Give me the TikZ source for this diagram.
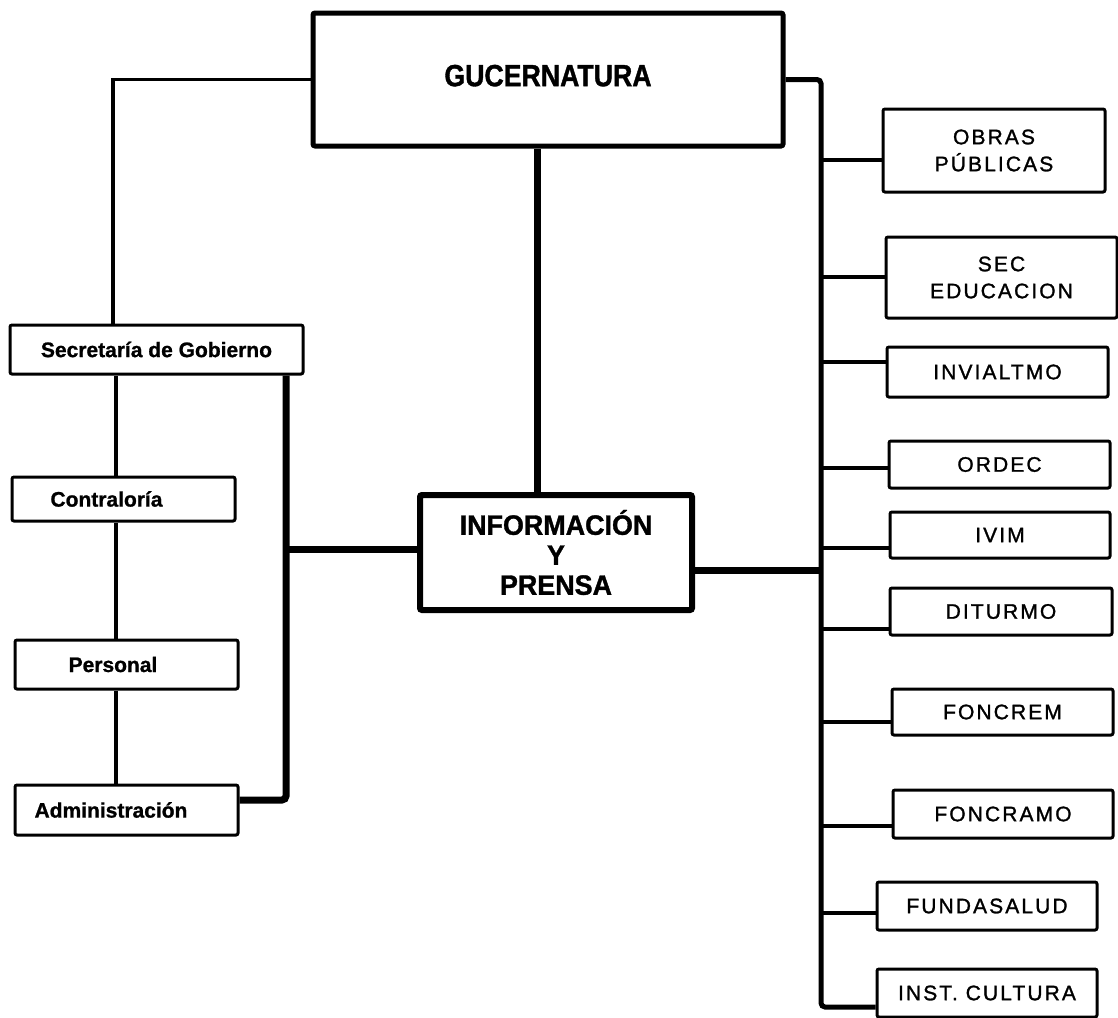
\documentclass[tikz,border=0pt]{standalone}
\usepackage{fontspec}
\setmainfont{Liberation Sans}
\newfontfamily\gobfont{Liberation Sans}[FakeStretch=0.87,FakeBold=1.2]
\newfontfamily\infofont{Liberation Sans}[FakeStretch=0.96,FakeBold=1.2]
\newfontfamily\rfont{Liberation Sans}[LetterSpace=10,FakeBold=1.3]
\newfontfamily\lfont{Liberation Sans}[FakeBold=1.0]
\begin{document}
\begin{tikzpicture}[x=1pt,y=-1pt,
  gobbox/.style={draw, line width=5pt, rounded corners=2pt, inner sep=0pt},
  rbox/.style={draw, line width=3pt, rounded corners=2pt, inner sep=0pt, align=center,
    font=\rfont\fontsize{21}{27}\selectfont},
  lbox/.style={draw, line width=3pt, rounded corners=2pt, inner sep=0pt,
    font=\lfont\bfseries\fontsize{21}{24}\selectfont},
  heavy/.style={line width=7pt},
  bus/.style={line width=5pt, rounded corners=4pt},
  conn/.style={line width=3.5pt},
  thinv/.style={line width=3.5pt}]

\fill[white] (0,0) rectangle (1118,1017);
\useasboundingbox (0,0) rectangle (1118,1017);

% central boxes
\node[gobbox, minimum width=470pt, minimum height=133pt,
  font=\gobfont\bfseries\fontsize{30.7}{34}\selectfont] (gob) at (548,79.5) {\raisebox{8pt}{GUCERNATURA}};
\node[gobbox, line width=6pt, minimum width=272pt, minimum height=115pt, align=center,
  font=\infofont\bfseries\fontsize{28}{30}\selectfont] (info) at (556,552.5) {INFORMACIÓN\\Y\\PRENSA};

% right boxes
\node[rbox, minimum width=222pt, minimum height=83pt] (obras) at (994,150.5) {OBRAS\\PÚBLICAS};
\node[rbox, minimum width=231pt, minimum height=81pt] (seced) at (1001.5,277.5) {SEC\\EDUCACION};
\node[rbox, minimum width=221pt, minimum height=50pt] (invial) at (997.5,372) {INVIALTMO};
\node[rbox, minimum width=221pt, minimum height=47pt] (ordec) at (999.5,464.5) {ORDEC};
\node[rbox, minimum width=220pt, minimum height=46pt] (ivim) at (1000,535) {IVIM};
\node[rbox, minimum width=222pt, minimum height=47pt] (ditur) at (1001,611.5) {DITURMO};
\node[rbox, minimum width=221pt, minimum height=46pt] (foncrem) at (1002.5,712) {FONCREM};
\node[rbox, minimum width=220pt, minimum height=48pt] (foncramo) at (1003,814) {FONCRAMO};
\node[rbox, minimum width=220pt, minimum height=48pt] (funda) at (987,906) {FUNDASALUD};
\node[rbox, minimum width=220pt, minimum height=48pt] (inst) at (987,993) {INST. CULTURA};

% left boxes
\node[lbox, minimum width=293pt, minimum height=49pt] (secgob) at (156.5,349.5) {Secretaría de Gobierno};
\node[lbox, minimum width=223pt, minimum height=44pt] (contra) at (123.5,499) {\hspace*{-34pt}Contraloría};
\node[lbox, minimum width=223pt, minimum height=49pt] (pers) at (126.5,664.5) {\hspace*{-27pt}Personal};
\node[lbox, minimum width=223pt, minimum height=50pt] (adm) at (126.5,810) {\hspace*{-31pt}Administración};

% right bus and branches
\coordinate (cbot) at (821,1007);
\draw[bus] (gob.east) -| (cbot) -- (cbot -| inst.west);
\foreach \n/\y in {obras/160, seced/277, invial/362, ordec/468, ivim/548, ditur/629, foncrem/722, foncramo/826, funda/913}{
  \coordinate (c\n) at (821,\y);
  \draw[conn] (c\n) -- (c\n -| \n.west);
}

% heavy links of the central box
\coordinate (gv) at (537,0);
\draw[heavy] (gob.south -| gv) -- (info.north -| gv);
\coordinate (ib) at (821,570);
\draw[heavy] (ib -| info.east) -- (ib);

% left side
\coordinate (lx) at (113,0);
\draw[thinv] (gob.west) -| (secgob.north -| lx);
\coordinate (vx) at (116,0);
\draw[thinv] (secgob.south -| vx) -- (contra.north -| vx);
\draw[thinv] (contra.south -| vx) -- (pers.north -| vx);
\draw[thinv] (pers.south -| vx) -- (adm.north -| vx);

\coordinate (hx) at (286,0);
\coordinate (hb) at (286,800);
\draw[heavy, rounded corners=4pt] (secgob.south -| hx) -- (hb) -- (hb -| adm.east);
\coordinate (hm) at (286,549);
\draw[heavy] (hm) -- (hm -| info.west);
\end{tikzpicture}
\end{document}
